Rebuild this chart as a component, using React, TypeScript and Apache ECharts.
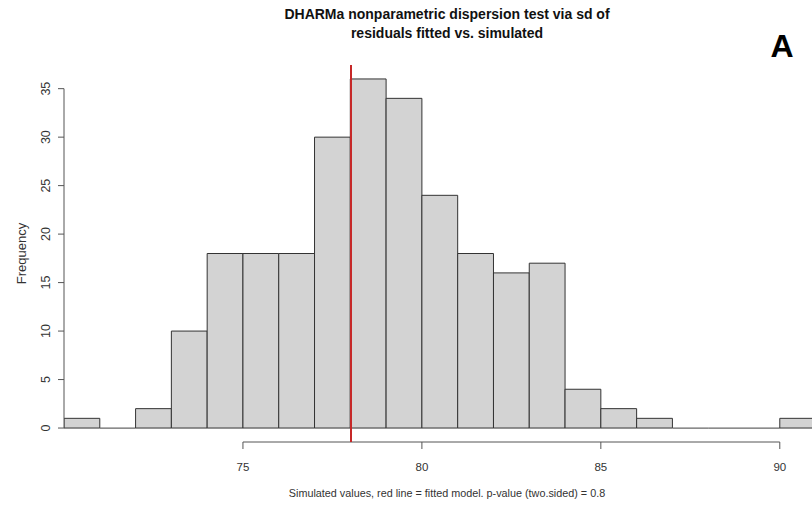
import React, { useEffect, useRef } from "react";
import * as echarts from "echarts";

// ---- data ----
const binStarts = [70, 71, 72, 73, 74, 75, 76, 77, 78, 79, 80, 81, 82, 83, 84, 85, 86, 87, 88, 89, 90];
const counts = [1, 0, 2, 10, 18, 18, 18, 30, 36, 34, 24, 18, 16, 17, 4, 2, 1, 0, 0, 0, 1];
const binWidth = 1;
const observedValue = 78.02;
const xTicks = [75, 80, 85, 90];
const yTicks = [0, 5, 10, 15, 20, 25, 30, 35];

const titleLines = ["DHARMa nonparametric dispersion test via sd of", "residuals fitted vs. simulated"];
const xLabel = "Simulated values, red line = fitted model. p-value (two.sided) = 0.8";
const yLabel = "Frequency";
const panelLetter = "A";

const SANS = "'Liberation Sans', Arial, sans-serif";

export default function App() {
  const ref = useRef<HTMLDivElement>(null);

  useEffect(() => {
    if (!ref.current) return;
    const chart = echarts.init(ref.current, null, { renderer: "svg" });

    const xMin = binStarts[0];
    const xMax = 90.9;
    const yMin = -1.44;
    const yMax = 37.44;
    const tickLen = 7;

    const barData = binStarts.map((s, i) => [s, s + binWidth, counts[i]]);

    chart.setOption({
      animation: false,
      backgroundColor: "#ffffff",
      grid: { left: 64, right: 0, top: 65, bottom: 71, containLabel: false },
      graphic: [
        {
          type: "text",
          x: 447,
          y: 14,
          style: {
            text: titleLines[0],
            font: `bold 14px ${SANS}`,
            fill: "#111",
            align: "center",
            verticalAlign: "middle",
          },
        },
        {
          type: "text",
          x: 447,
          y: 33,
          style: {
            text: titleLines[1],
            font: `bold 14px ${SANS}`,
            fill: "#111",
            align: "center",
            verticalAlign: "middle",
          },
        },
        {
          type: "text",
          x: 782,
          y: 46,
          style: {
            text: panelLetter,
            font: `bold 32px ${SANS}`,
            fill: "#000",
            align: "center",
            verticalAlign: "middle",
          },
        },
      ],
      xAxis: {
        type: "value",
        min: xMin,
        max: xMax,
        axisLine: { show: false },
        splitLine: { show: false },
        axisTick: { show: false },
        axisLabel: {
          show: true,
          customValues: xTicks,
          margin: 19,
          fontSize: 11.5,
          fontFamily: SANS,
          color: "#333",
        },
        name: xLabel,
        nameLocation: "middle",
        nameGap: 45,
        nameTextStyle: { fontSize: 10.8, fontFamily: SANS, color: "#333", padding: [0, 0, 0, 18] },
      },
      yAxis: {
        type: "value",
        min: yMin,
        max: yMax,
        axisLine: { show: false },
        splitLine: { show: false },
        axisTick: { show: false },
        axisLabel: {
          show: true,
          customValues: yTicks,
          rotate: 90,
          margin: 12,
          fontSize: 12.5,
          fontFamily: SANS,
          color: "#333",
        },
        name: yLabel,
        nameLocation: "middle",
        nameRotate: 90,
        nameGap: 36,
        nameTextStyle: { fontSize: 13, fontFamily: SANS, color: "#333" },
      },
      series: [
        {
          type: "custom",
          clip: true,
          data: barData,
          encode: { x: [0, 1], y: 2 },
          renderItem: (params: any, api: any) => {
            const x0 = api.value(0);
            const x1 = api.value(1);
            const c = api.value(2);
            const pTop = api.coord([x0, c]);
            const pBase = api.coord([x1, 0]);
            if (c === 0) {
              return {
                type: "line",
                shape: { x1: pTop[0], y1: pBase[1], x2: pBase[0], y2: pBase[1] },
                style: { stroke: "#666", lineWidth: 1.2 },
              };
            }
            return {
              type: "rect",
              shape: { x: pTop[0], y: pTop[1], width: pBase[0] - pTop[0], height: pBase[1] - pTop[1] },
              style: { fill: "#d3d3d3", stroke: "#333", lineWidth: 1 },
            };
          },
          markLine: {
            silent: true,
            symbol: "none",
            label: { show: false },
            lineStyle: { color: "#c62828", width: 2, type: "solid" },
            data: [{ xAxis: observedValue }],
          },
          z: 2,
        },
        {
          type: "custom",
          clip: false,
          silent: true,
          data: [[xTicks[0], 0]],
          renderItem: (params: any, api: any) => {
            const stroke = { stroke: "#555", lineWidth: 1 };
            const xa = api.coord([xTicks[0], yMin]);
            const xb = api.coord([xTicks[xTicks.length - 1], yMin]);
            const ya = api.coord([xMin, yTicks[0]]);
            const yb = api.coord([xMin, yTicks[yTicks.length - 1]]);
            const children: any[] = [
              { type: "line", shape: { x1: xa[0], y1: xa[1], x2: xb[0], y2: xb[1] }, style: stroke },
              { type: "line", shape: { x1: ya[0], y1: ya[1], x2: yb[0], y2: yb[1] }, style: stroke },
            ];
            xTicks.forEach((t) => {
              const p = api.coord([t, yMin]);
              children.push({ type: "line", shape: { x1: p[0], y1: p[1], x2: p[0], y2: p[1] + tickLen }, style: stroke });
            });
            yTicks.forEach((t) => {
              const p = api.coord([xMin, t]);
              children.push({ type: "line", shape: { x1: p[0], y1: p[1], x2: p[0] - tickLen + 1, y2: p[1] }, style: stroke });
            });
            return { type: "group", children };
          },
          z: 3,
        },
      ],
    });

    return () => chart.dispose();
  }, []);

  return (
    <div
      ref={ref}
      style={{ position: "fixed", left: 0, top: 0, width: 812, height: 513 }}
    />
  );
}
